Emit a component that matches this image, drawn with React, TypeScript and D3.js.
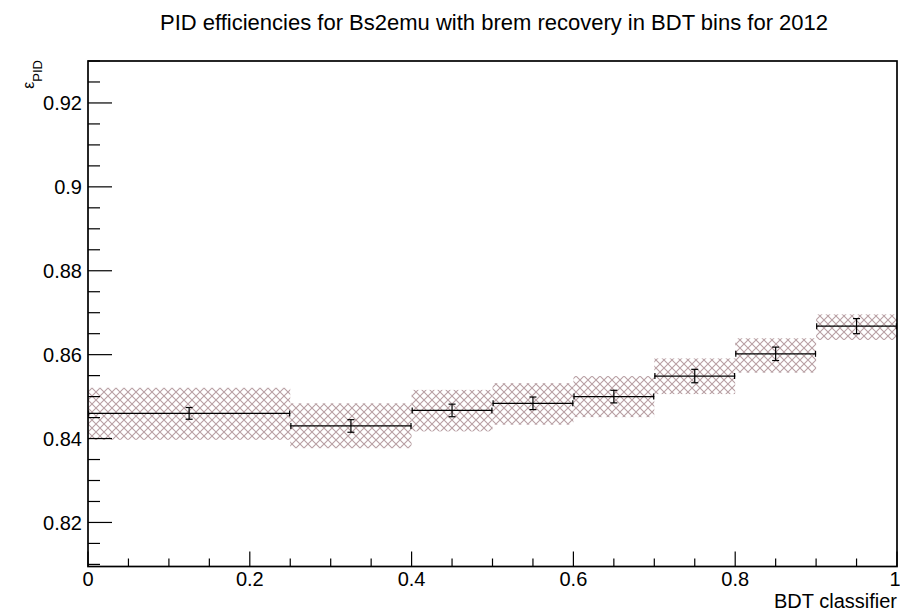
import React from "react";
import * as d3 from "d3";

const binEdges = [0, 0.25, 0.4, 0.5, 0.6, 0.7, 0.8, 0.9, 1.0];
const centralValues = [0.846, 0.8430, 0.8467, 0.8484, 0.8500, 0.8549, 0.8602, 0.8668];
const statErrors = [0.0014, 0.0015, 0.0015, 0.0015, 0.0015, 0.0016, 0.0016, 0.0018];
const bandLow = [0.8397, 0.8377, 0.8417, 0.8433, 0.8451, 0.8506, 0.8557, 0.8635];
const bandHigh = [0.8521, 0.8484, 0.8516, 0.8532, 0.8549, 0.8591, 0.8639, 0.8696];
const xMajorTicks = [0, 0.2, 0.4, 0.6, 0.8, 1];
const xTickLabels = ["0", "0.2", "0.4", "0.6", "0.8", "1"];
const yMajorTicks = [0.82, 0.84, 0.86, 0.88, 0.9, 0.92];
const yTickLabels = ["0.82", "0.84", "0.86", "0.88", "0.9", "0.92"];

const W = 900, H = 614;
const L = 88, R = 897, T = 61, B = 566.5;
const FONT = "'Liberation Sans', Arial, Helvetica, sans-serif";

export default function App() {
  const x = d3.scaleLinear().domain([0, 1]).range([L, R]);
  const y = d3.scaleLinear().domain([0.8095, 0.93]).range([B, T]);
  const xMinor = d3.range(0, 1.0001, 0.05).map((v) => +v.toFixed(3));
  const yMinor = d3.range(0.81, 0.9301, 0.005).map((v) => +v.toFixed(4));
  const hatch = "#b89fa3";
  const P = 8;
  return (
    <div style={{ position: "absolute", left: 0, top: 0 }}>
      <svg width={W} height={H} style={{ display: "block", background: "#fff" }}>
        <defs>
          <pattern id="xh" patternUnits="userSpaceOnUse" width={P} height={P}>
            <path d={`M0,0 L${P},${P} M0,${P} L${P},0`} stroke={hatch} strokeWidth={1.1} />
          </pattern>
          <clipPath id="frame">
            <rect x={L} y={T} width={R - L} height={B - T} />
          </clipPath>
        </defs>
        <text x={494} y={30} textAnchor="middle" fontFamily={FONT} fontSize={22} fill="#000">
          PID efficiencies for Bs2emu with brem recovery in BDT bins for 2012
        </text>
        <g clipPath="url(#frame)">
          {centralValues.map((v, i) => (
            <rect key={"b" + i} x={x(binEdges[i])} width={x(binEdges[i + 1]) - x(binEdges[i])}
              y={y(bandHigh[i])} height={y(bandLow[i]) - y(bandHigh[i])} fill="url(#xh)" />
          ))}
          {centralValues.map((v, i) => {
            const x0 = x(binEdges[i]), x1 = x(binEdges[i + 1]);
            const xc = x((binEdges[i] + binEdges[i + 1]) / 2);
            const yc = y(v), ye0 = y(v - statErrors[i]), ye1 = y(v + statErrors[i]);
            return (
              <g key={"e" + i} stroke="#000" strokeWidth={1.2} fill="none">
                <line x1={x0} x2={x1} y1={yc} y2={yc} />
                <line x1={x0 + 0.6} x2={x0 + 0.6} y1={yc - 3} y2={yc + 3} />
                <line x1={x1 - 0.6} x2={x1 - 0.6} y1={yc - 3} y2={yc + 3} />
                <line x1={xc} x2={xc} y1={ye0} y2={ye1} />
                <line x1={xc - 3.5} x2={xc + 3.5} y1={ye0} y2={ye0} />
                <line x1={xc - 3.5} x2={xc + 3.5} y1={ye1} y2={ye1} />
              </g>
            );
          })}
        </g>
        {yMinor.map((v) => {
          const major = yMajorTicks.some((m) => Math.abs(m - v) < 1e-6);
          return <line key={"ym" + v} x1={L} x2={L + (major ? 24 : 12)} y1={y(v)} y2={y(v)} stroke="#000" strokeWidth={1.2} />;
        })}
        {xMinor.map((v) => {
          const major = xMajorTicks.some((m) => Math.abs(m - v) < 1e-6);
          return <line key={"xm" + v} x1={x(v)} x2={x(v)} y1={B} y2={B - (major ? 15 : 8)} stroke="#000" strokeWidth={1.2} />;
        })}
        <rect x={L} y={T} width={R - L} height={B - T} fill="none" stroke="#000" strokeWidth={1.7} />
        {yMajorTicks.map((v, i) => (
          <text key={"yl" + i} x={82} y={y(v) + 7.5} textAnchor="end" fontFamily={FONT} fontSize={20} fill="#000">
            {yTickLabels[i]}
          </text>
        ))}
        {xMajorTicks.map((v, i) => (
          <text key={"xl" + i} x={i === xMajorTicks.length - 1 ? x(v) - 2 : x(v)} y={586} textAnchor="middle" fontFamily={FONT} fontSize={20} fill="#000">
            {xTickLabels[i]}
          </text>
        ))}
        <text x={R} y={608} textAnchor="end" fontFamily={FONT} fontSize={20} fill="#000">BDT classifier</text>
        <text transform={`translate(33.5,60) rotate(-90)`} textAnchor="end" fontFamily={FONT} fontSize={16} fill="#000">
          ε<tspan fontSize={13} dy={8.5}>PID</tspan>
        </text>
      </svg>
    </div>
  );
}
